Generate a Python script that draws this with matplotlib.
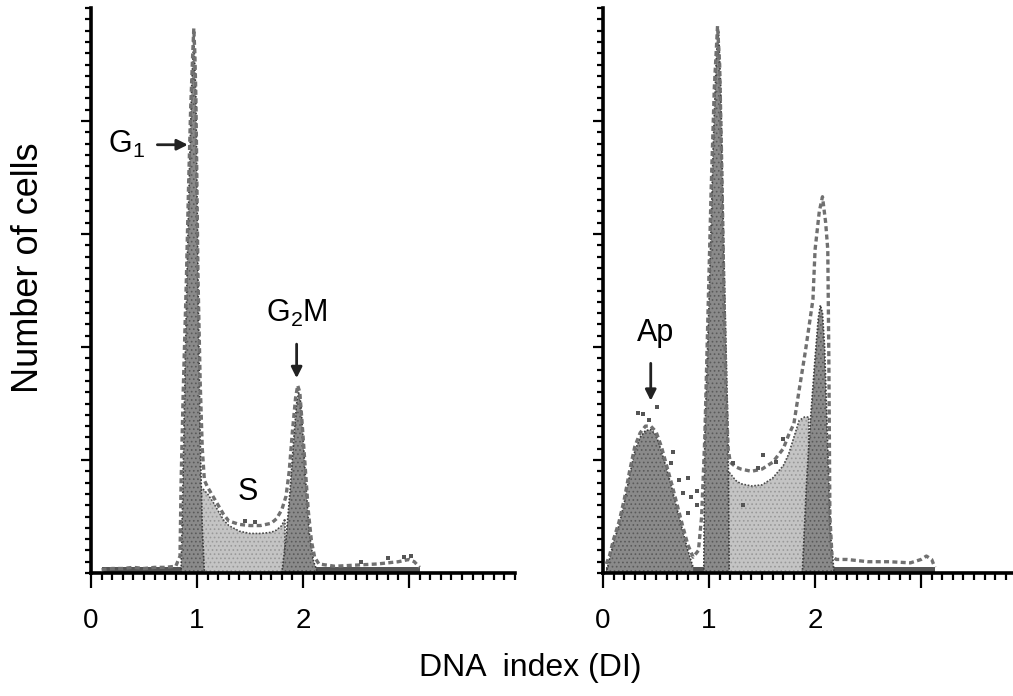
import numpy as np
import matplotlib
matplotlib.use('Agg')
import matplotlib.pyplot as plt
from matplotlib.ticker import MultipleLocator, FixedLocator

plt.rcParams['font.family'] = ['Liberation Sans', 'DejaVu Sans']
plt.rcParams['mathtext.fontset'] = 'custom'
plt.rcParams['mathtext.rm'] = 'Liberation Sans'
plt.rcParams['mathtext.it'] = 'Liberation Sans:italic'
plt.rcParams['hatch.linewidth'] = 0.7

# ---- left panel (control): measured histogram envelope, DNA index vs counts
ctl_di = [0.10, 0.20, 0.30, 0.40, 0.50, 0.60, 0.70, 0.80, 0.84, 0.85, 0.87, 0.90,
          0.92, 0.94, 0.96, 0.97, 0.98, 0.99, 1.00, 1.01, 1.03, 1.05, 1.07, 1.10,
          1.15, 1.20, 1.25, 1.30, 1.40, 1.50, 1.60, 1.70, 1.75, 1.80, 1.84, 1.87,
          1.90, 1.93, 1.95, 1.97, 1.99, 2.02, 2.05, 2.08, 2.11, 2.15, 2.30, 2.50,
          2.70, 2.90, 3.00, 3.05, 3.10]
ctl_n = [0.03, 0.04, 0.04, 0.05, 0.04, 0.05, 0.05, 0.06, 0.15, 0.80, 1.60, 2.60,
         3.40, 4.10, 4.60, 4.82, 4.60, 4.20, 3.40, 2.60, 1.70, 1.10, 0.82, 0.76,
         0.68, 0.60, 0.52, 0.46, 0.43, 0.42, 0.42, 0.44, 0.48, 0.56, 0.68, 0.90,
         1.25, 1.55, 1.66, 1.60, 1.35, 0.95, 0.55, 0.28, 0.14, 0.08, 0.06, 0.07,
         0.08, 0.10, 0.12, 0.10, 0.05]

# fitted components (left)
ctl_g1_di = [0.85, 0.87, 0.89, 0.91, 0.93, 0.95, 0.97, 0.99, 1.01, 1.03, 1.05, 1.07]
ctl_g1_n = [0.00, 0.90, 1.90, 2.80, 3.60, 4.30, 4.75, 4.20, 2.60, 1.20, 0.40, 0.00]
ctl_s_di = [1.00, 1.00, 1.03, 1.06, 1.10, 1.15, 1.20, 1.25, 1.30, 1.40, 1.50, 1.60,
            1.70, 1.75, 1.80, 1.83, 1.83]
ctl_s_n = [0.00, 0.70, 0.76, 0.74, 0.70, 0.63, 0.55, 0.47, 0.42, 0.37, 0.35, 0.35,
           0.36, 0.38, 0.42, 0.48, 0.00]
ctl_g2_di = [1.80, 1.84, 1.88, 1.91, 1.94, 1.96, 1.98, 2.00, 2.03, 2.06, 2.10, 2.14]
ctl_g2_n = [0.00, 0.30, 0.75, 1.15, 1.50, 1.60, 1.50, 1.20, 0.75, 0.35, 0.10, 0.00]
ctl_dots_di = [1.45, 1.55, 2.55, 2.80, 2.95, 3.02]
ctl_dots_n = [0.46, 0.45, 0.10, 0.13, 0.14, 0.15]

# ---- right panel (treated): envelope
trt_di = [0.03, 0.06, 0.10, 0.15, 0.20, 0.25, 0.30, 0.35, 0.40, 0.45, 0.50, 0.55,
          0.60, 0.65, 0.70, 0.75, 0.80, 0.85, 0.90, 0.93, 0.96, 0.99, 1.02, 1.05,
          1.08, 1.10, 1.12, 1.14, 1.16, 1.18, 1.20, 1.25, 1.30, 1.40, 1.50, 1.60,
          1.70, 1.75, 1.80, 1.85, 1.91, 1.98, 2.00, 2.04, 2.07, 2.10, 2.12, 2.13,
          2.14, 2.16, 2.20, 2.30, 2.50, 2.70, 2.90, 3.00, 3.05, 3.10, 3.13]
trt_n = [0.08, 0.15, 0.30, 0.45, 0.65, 0.90, 1.12, 1.24, 1.30, 1.30, 1.25, 1.12,
         0.95, 0.78, 0.60, 0.42, 0.25, 0.14, 0.20, 0.50, 1.20, 2.30, 3.40, 4.30,
         4.84, 4.50, 3.60, 2.50, 1.60, 1.10, 0.98, 0.94, 0.92, 0.90, 0.92, 0.98,
         1.10, 1.22, 1.32, 1.62, 1.97, 2.42, 2.86, 3.20, 3.33, 3.10, 2.86, 1.90,
         0.50, 0.15, 0.12, 0.12, 0.10, 0.10, 0.09, 0.12, 0.15, 0.12, 0.05]

trt_ap_di = [0.03, 0.06, 0.10, 0.15, 0.20, 0.25, 0.30, 0.35, 0.40, 0.45, 0.50, 0.55,
             0.60, 0.65, 0.70, 0.75, 0.80, 0.85]
trt_ap_n = [0.00, 0.12, 0.28, 0.42, 0.62, 0.86, 1.08, 1.20, 1.26, 1.27, 1.22, 1.08,
            0.92, 0.75, 0.56, 0.38, 0.20, 0.05]
trt_g1_di = [0.95, 0.96, 1.00, 1.04, 1.07, 1.09, 1.11, 1.14, 1.18, 1.19]
trt_g1_n = [0.00, 1.20, 2.40, 3.80, 4.60, 4.80, 4.30, 2.80, 1.20, 0.00]
trt_s_di = [1.18, 1.18, 1.20, 1.25, 1.30, 1.40, 1.50, 1.60, 1.70, 1.75, 1.80, 1.85,
            1.90, 1.94, 1.94]
trt_s_n = [0.00, 0.90, 0.88, 0.82, 0.79, 0.77, 0.78, 0.84, 0.95, 1.05, 1.20, 1.35,
           1.38, 1.38, 0.00]
trt_g2_di = [1.88, 1.92, 1.96, 2.00, 2.03, 2.05, 2.07, 2.09, 2.11, 2.13, 2.15, 2.18]
trt_g2_n = [0.00, 0.80, 1.40, 1.90, 2.25, 2.37, 2.30, 2.00, 1.40, 0.80, 0.30, 0.00]
trt_dots_di = [0.33, 0.38, 0.51, 0.43, 0.66, 0.64, 0.72, 0.80, 0.75, 0.83, 0.89,
               0.80, 0.89, 1.51, 1.32, 1.70, 1.23, 1.46, 1.63]
trt_dots_n = [1.42, 1.41, 1.47, 1.35, 1.07, 0.97, 0.82, 0.84, 0.71, 0.67, 0.60,
              0.53, 0.73, 1.04, 0.60, 1.19, 0.97, 0.93, 0.98]

debris_ctl_di = [0.10, 3.10]
debris_trt_di = [0.03, 3.13]

DARK = '#8a8a8a'
LIGHT = '#c4c4c4'


def panel(ax, env_x, env_y, dark_comps, light_comps, dots, debris):
    ax.fill_between(debris, 0, 0.05, color='#555555', lw=0, zorder=1)
    for cx, cy in light_comps:
        ax.fill_between(cx, cy, 0, facecolor=LIGHT, edgecolor='#999999',
                        hatch='....', lw=0, zorder=1)
        ax.plot(cx, cy, color='#4a4a4a', ls=(0, (1, 1)), lw=1.2, zorder=2)
    for cx, cy in dark_comps:
        ax.fill_between(cx, cy, 0, facecolor=DARK, edgecolor='#5a5a5a',
                        hatch='....', lw=0, zorder=2)
        ax.plot(cx, cy, color='#3a3a3a', ls=(0, (1, 1)), lw=1.2, zorder=2)
    ax.plot(env_x, env_y, color='#707070', ls=(0, (1.5, 1)), lw=2.4, zorder=3)
    ax.scatter(dots[0], dots[1], s=8, marker='s', color='#555555', lw=0, zorder=3)

    ax.set_xlim(0, 4)
    ax.set_ylim(0, 5)
    for s in ['top', 'right']:
        ax.spines[s].set_visible(False)
    for s in ['left', 'bottom']:
        ax.spines[s].set_linewidth(2.6)
    ax.xaxis.set_major_locator(FixedLocator([0, 1, 2, 3]))
    ax.xaxis.set_minor_locator(MultipleLocator(0.1))
    ax.set_xticklabels(['0', '1', '2', ''])
    ax.yaxis.set_major_locator(FixedLocator([1, 2, 3, 4]))
    ax.yaxis.set_minor_locator(MultipleLocator(0.1))
    ax.set_yticklabels([])
    ax.tick_params(axis='x', which='major', length=11, width=1.6, pad=14, labelsize=20)
    ax.tick_params(axis='x', which='minor', length=5, width=1.6)
    ax.tick_params(axis='y', which='major', length=7.5, width=1.6)
    ax.tick_params(axis='y', which='minor', length=4.5, width=1.6)


fig = plt.figure(figsize=(10.13, 6.96), dpi=100)
ax1 = fig.add_axes([0.0898, 0.1767, 0.4186, 0.8118])
ax2 = fig.add_axes([0.5953, 0.1767, 0.4186, 0.8118])

panel(ax1, ctl_di, ctl_n,
      [(ctl_g1_di, ctl_g1_n), (ctl_g2_di, ctl_g2_n)],
      [(ctl_s_di, ctl_s_n)],
      (ctl_dots_di, ctl_dots_n), debris_ctl_di)
panel(ax2, trt_di, trt_n,
      [(trt_ap_di, trt_ap_n), (trt_g1_di, trt_g1_n), (trt_g2_di, trt_g2_n)],
      [(trt_s_di, trt_s_n)],
      (trt_dots_di, trt_dots_n), debris_trt_di)

arrow = dict(arrowstyle='-|>', color='#222222', lw=2, mutation_scale=16)
ax1.text(0.16, 3.79, r'G$_\mathrm{1}$', fontsize=22, va='center', ha='left')
ax1.annotate('', xy=(0.94, 3.79), xytext=(0.60, 3.79), arrowprops=arrow)
ax1.text(1.94, 2.30, r'G$_\mathrm{2}$M', fontsize=22, va='center', ha='center')
ax1.annotate('', xy=(1.94, 1.70), xytext=(1.94, 2.05), arrowprops=arrow)
ax1.text(1.48, 0.72, 'S', fontsize=22, va='center', ha='center')
ax2.text(0.50, 2.12, 'Ap', fontsize=22, va='center', ha='center')
ax2.annotate('', xy=(0.45, 1.50), xytext=(0.45, 1.88), arrowprops=arrow)

fig.text(0.028, 0.615, 'Number of cells', rotation=90, fontsize=26,
         ha='center', va='center')
fig.text(0.523, 0.040, 'DNA  index (DI)', fontsize=23, ha='center', va='center')

fig.savefig('out.png', dpi=100)
